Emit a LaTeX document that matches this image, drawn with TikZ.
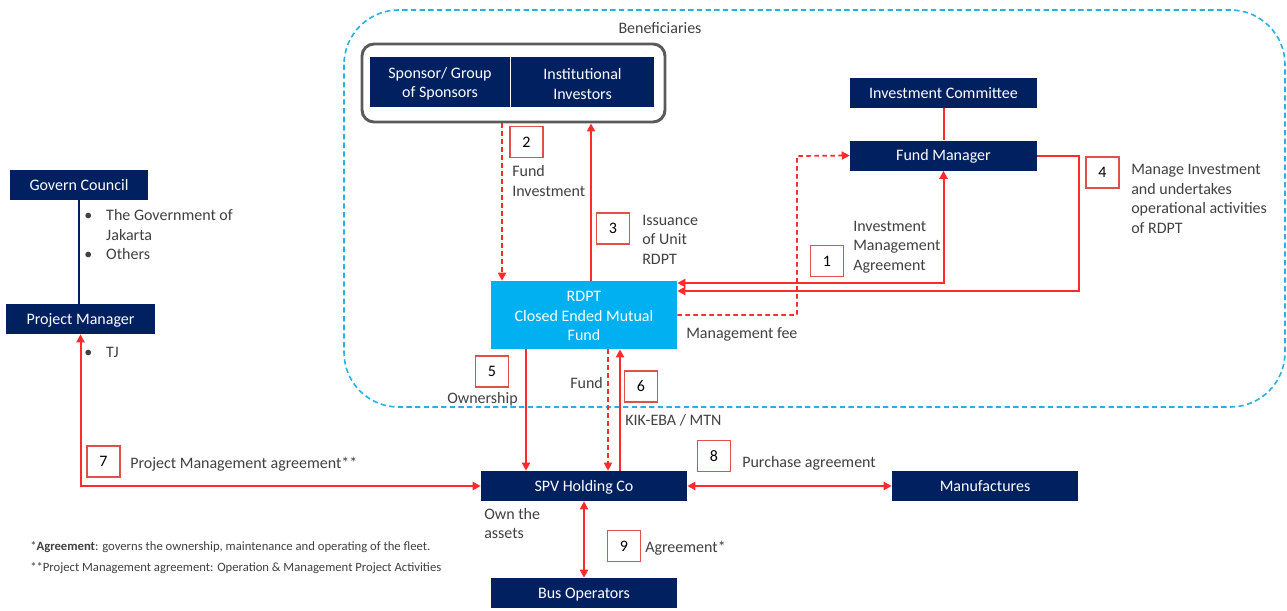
\documentclass[tikz,border=0pt]{standalone}
\usepackage{fontspec}
\setmainfont{Carlito}
\usetikzlibrary{arrows.meta}
\definecolor{navy}{HTML}{002060}
\definecolor{skyb}{HTML}{00B0F0}
\definecolor{redl}{HTML}{FF2A2A}
\definecolor{numred}{HTML}{E0504A}
\definecolor{dashb}{HTML}{27B0E6}
\definecolor{txt}{HTML}{404040}
\definecolor{grayb}{HTML}{5A5A5A}
\begin{document}
\begin{tikzpicture}[x=0.75pt,y=-0.75pt,
  font=\fontsize{12}{14.6}\selectfont,
  navybox/.style={fill=navy,text=white,inner sep=0pt,minimum width=140.25pt,minimum height=22.5pt,align=center},
  onebox/.style={navybox,text height=10pt,text depth=2.3pt},
  intext/.style={text=white,align=center,inner sep=0pt,yshift=-1.5pt},
  numbox/.style={draw=numred,line width=1.1pt,fill=white,text=black,inner sep=0pt,minimum width=25pt,minimum height=23pt},
  lbl/.style={text=txt,inner sep=0pt,align=left,anchor=west,yshift=-1.5pt},
  rarrow/.style={draw=redl,line width=1.5pt,-{Triangle[length=6pt,width=6pt]}},
  rboth/.style={draw=redl,line width=1.5pt,{Triangle[length=6pt,width=6pt]}-{Triangle[length=6pt,width=6pt]}},
  rdash/.style={draw=redl,line width=1.3pt,dash pattern=on 3.5pt off 2.5pt,-{Triangle[length=6pt,width=6pt]}},
  rline/.style={draw=redl,line width=1.5pt}]
\useasboundingbox (0,0) rectangle (1287,610);
% beneficiaries area
\draw[dashb,line width=1.2pt,dash pattern=on 4pt off 2.5pt,rounded corners=41pt] (344,10) rectangle (1285,407);
\node[lbl,anchor=center] (ben) at (660,26) {Beneficiaries};
% group
\node[draw=grayb,line width=2.2pt,rounded corners=9pt,minimum width=227.25pt,minimum height=58.5pt,inner sep=0pt] (grp) at (513.5,83) {};
\node[navybox,minimum width=105pt,minimum height=37.5pt,label={[intext]center:{Sponsor/ Group\\of Sponsors}}] (spon) at (440,82) {};
\node[navybox,minimum width=107.25pt,minimum height=37.5pt,label={[intext]center:{Institutional\\Investors}}] (inst) at (582.5,82) {};
% main boxes
\node[onebox] (ic) at (943.5,93) {Investment Committee};
\node[onebox] (fm) at (943.5,155.5) {Fund Manager};
\node[fill=skyb,inner sep=0pt,minimum width=139.5pt,minimum height=51pt,label={[intext,yshift=0.7pt]center:{RDPT\\Closed Ended Mutual\\Fund}}] (rdpt) at (584,315) {};
\node[onebox,minimum width=103.5pt] (gc) at (79,185) {Govern Council};
\node[onebox,minimum width=111.75pt] (pm) at (80.5,319) {Project Manager};
\node[onebox,minimum width=154.5pt] (spv) at (584,486) {SPV Holding Co};
\node[onebox,minimum width=139.5pt] (man) at (985,486) {Manufactures};
\node[onebox,minimum width=139.5pt] (bus) at (584,593) {Bus Operators};
% coordinates
\coordinate (c2) at (502,0);
\coordinate (c3) at (591,0);
\coordinate (cfee) at (797,156);
\coordinate (c4) at (1079,291);
\coordinate (c5) at (526,0);
\coordinate (cf) at (608,0);
\coordinate (c6) at (620,0);
% connectors
\draw[rdash] (grp.south -| c2) -- (rdpt.north -| c2);
\draw[rarrow] (rdpt.north -| c3) -- (grp.south -| c3);
\draw[rdash] (rdpt.east) -| (cfee) -- (fm.west);
\draw[rline] (ic.south) -- (fm.north);
\draw[rboth] (fm.south) |- ([yshift=24pt]rdpt.east);
\draw[rarrow] (fm.east) -| (c4) -- ([yshift=18pt]rdpt.east);
\draw[rarrow] (rdpt.south -| c5) -- (spv.north -| c5);
\draw[rdash] (rdpt.south -| cf) -- (spv.north -| cf);
\draw[rarrow] (spv.north -| c6) -- (rdpt.south -| c6);
\draw[navy,line width=1.1pt] (gc.south) -- (gc.south |- pm.north);
\draw[rboth] (pm.south) |- (spv.west);
\draw[rboth] (spv.east) -- (man.west);
\draw[rboth] (spv.south) -- (bus.north);
% number boxes
\node[numbox] (n1) at (827,261) {1};
\node[numbox] (n2) at (526.5,142) {2};
\node[numbox] (n3) at (613,228.5) {3};
\node[numbox] (n4) at (1102.5,172.5) {4};
\node[numbox] (n5) at (492,371.5) {5};
\node[numbox] (n6) at (641,386.5) {6};
\node[numbox] (n7) at (103.5,461.5) {7};
\node[numbox] (n8) at (714,456) {8};
\node[numbox] (n9) at (624,546) {9};
% labels
\node[lbl] (l2) at (512,179) {Fund\\Investment};
\node[lbl] (l3) at (642,237.5) {Issuance\\of Unit\\RDPT};
\node[lbl] (l1) at (853,245) {Investment\\Management\\Agreement};
\node[lbl] (l4) at (1131,197) {Manage Investment\\and undertakes\\operational activities\\of RDPT};
\node[lbl] (lfee) at (686,332) {Management fee};
\node[lbl] (lgc) at (84,234.5) {\begin{tabular}{@{}l@{\hspace{10.5pt}}l@{}}\textbullet & The Government of\\ & Jakarta\\ \textbullet & Others\end{tabular}};
\node[lbl] (ltj) at (84,352) {\begin{tabular}{@{}l@{\hspace{10.5pt}}l@{}}\textbullet & TJ\end{tabular}};
\node[lbl] (l5) at (447,397) {Ownership};
\node[lbl] (lfund) at (570,381) {Fund};
\node[lbl] (l6) at (625,418) {KIK-EBA / MTN};
\node[lbl] (l7) at (130,462) {Project Management agreement**};
\node[lbl] (l8) at (742,461) {Purchase agreement};
\node[lbl] (lown) at (484,521.5) {Own the\\assets};
\node[lbl] (l9) at (645,546) {Agreement*};
\node[lbl,font=\fontsize{9.5}{11}\selectfont] (fn1) at (30,545) {*\textbf{Agreement}: governs the ownership, maintenance and operating of the fleet.};
\node[lbl,font=\fontsize{9.5}{11}\selectfont] (fn2) at (30,566) {**Project Management agreement: Operation \& Management Project Activities};
\end{tikzpicture}
\end{document}
